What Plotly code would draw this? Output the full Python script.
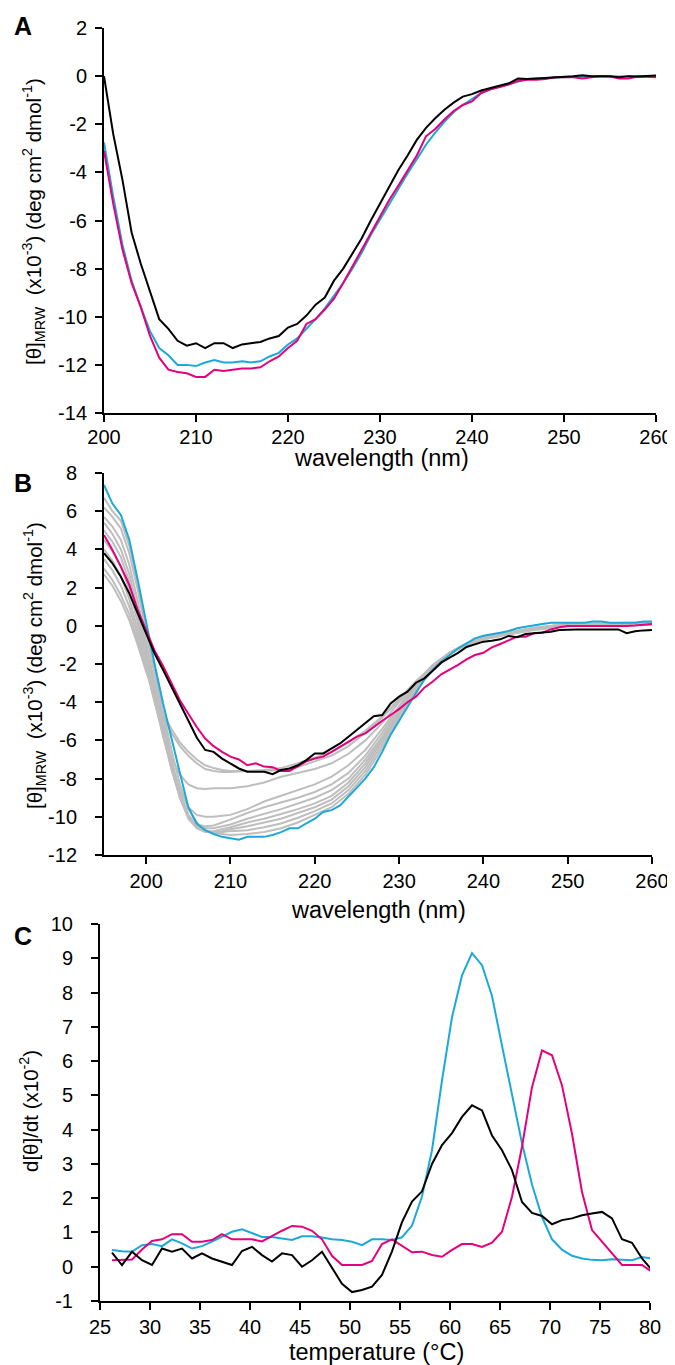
import plotly.graph_objects as go

# ---------------- Panel A data ----------------
A_WL = list(range(200, 261))
A_BLACK = [0.0, -2.4, -4.3, -6.5, -7.8, -9.0, -10.1, -10.5, -11.0, -11.2, -11.1,
           -11.3, -11.1, -11.1, -11.3, -11.15, -11.1, -11.05, -10.9, -10.8, -10.45,
           -10.3, -9.95, -9.5, -9.2, -8.5, -8.0, -7.35, -6.75, -6.0, -5.3,
           -4.55, -3.9, -3.3, -2.65, -2.15, -1.75, -1.4, -1.1, -0.85, -0.75,
           -0.6, -0.5, -0.4, -0.3, -0.1, -0.12, -0.1, -0.08, -0.06, -0.03,
           0.0, 0.04, 0.0, 0.0, 0.0, -0.05, 0.0, -0.02, 0.0, 0.03]
A_CYAN = [-2.75, -5.0, -7.0, -8.5, -9.6, -10.6, -11.3, -11.6, -12.0, -12.0, -12.05,
          -11.9, -11.8, -11.9, -11.9, -11.85, -11.9, -11.85, -11.65, -11.5, -11.15,
          -10.9, -10.5, -10.1, -9.65, -9.15, -8.6, -8.0, -7.35, -6.6, -5.95,
          -5.3, -4.7, -4.05, -3.45, -2.85, -2.35, -1.9, -1.5, -1.2, -0.95,
          -0.7, -0.55, -0.45, -0.35, -0.22, -0.12, -0.1, -0.08, -0.05, -0.03,
          -0.02, 0.0, -0.02, -0.02, -0.03, -0.03, -0.02, -0.03, -0.02, -0.02]
A_MAGENTA = [-3.1, -5.3, -7.2, -8.6, -9.6, -10.8, -11.7, -12.2, -12.3, -12.35, -12.5,
             -12.5, -12.2, -12.25, -12.2, -12.15, -12.15, -12.1, -11.85, -11.65, -11.3,
             -11.0, -10.3, -10.1, -9.7, -9.25, -8.6, -7.9, -7.2, -6.5, -5.8,
             -5.15, -4.55, -3.95, -3.3, -2.5, -2.2, -1.8, -1.45, -1.2, -1.05,
             -0.7, -0.55, -0.45, -0.35, -0.2, -0.15, -0.15, -0.12, -0.05, -0.05,
             -0.05, -0.1, -0.05, 0.0, -0.02, -0.1, -0.1, -0.02, -0.03, -0.05]
A_XTICKS = [200, 210, 220, 230, 240, 250, 260]
A_YTICKS = [2, 0, -2, -4, -6, -8, -10, -12, -14]

# ---------------- Panel B data ----------------
B_WL = list(range(195, 261))
B_CYAN = [7.37, 6.4, 5.8, 4.5, 2.4, 0.1, -2.0, -4.05, -5.8, -7.7, -9.5,
          -10.35, -10.7, -10.9, -11.05, -11.13, -11.2, -11.05, -11.05, -11.05, -10.95,
          -10.8, -10.6, -10.6, -10.35, -10.1, -9.75, -9.65, -9.4, -8.95, -8.5,
          -8.0, -7.4, -6.6, -5.7, -4.97, -4.25, -3.5, -2.8, -2.3, -1.88,
          -1.53, -1.18, -0.92, -0.66, -0.52, -0.45, -0.36, -0.27, -0.13, -0.05,
          0.04, 0.09, 0.16, 0.16, 0.16, 0.13, 0.16, 0.22, 0.22, 0.16,
          0.16, 0.16, 0.16, 0.22, 0.22]
B_BLACK = [3.8, 3.27, 2.57, 1.7, 0.65, -0.4, -1.45, -2.3, -3.2, -4.07, -4.93,
           -5.85, -6.5, -6.6, -6.95, -7.2, -7.47, -7.64, -7.64, -7.64, -7.77,
           -7.55, -7.47, -7.3, -7.03, -6.68, -6.68, -6.42, -6.16, -5.81, -5.46,
           -5.11, -4.73, -4.67, -4.06, -3.71, -3.45, -2.98, -2.75, -2.35, -1.93,
           -1.67, -1.42, -1.11, -0.97, -0.83, -0.78, -0.71, -0.53, -0.6, -0.43,
           -0.39, -0.36, -0.31, -0.22, -0.19, -0.19, -0.19, -0.19, -0.19, -0.22,
           -0.19, -0.39, -0.29, -0.24, -0.22]
B_MAGENTA = [4.75, 3.97, 3.1, 2.14, 0.83, -0.2, -1.3, -2.1, -3.0, -3.9, -4.6,
             -5.3, -5.9, -6.3, -6.6, -6.85, -7.0, -7.3, -7.2, -7.37, -7.4,
             -7.6, -7.6, -7.37, -7.1, -6.95, -6.85, -6.6, -6.33, -6.06, -5.8,
             -5.63, -5.28, -4.97, -4.67, -4.36, -4.0, -3.71, -3.24, -2.92, -2.54,
             -2.31, -2.05, -1.76, -1.53, -1.41, -1.13, -0.95, -0.78, -0.57, -0.57,
             -0.39, -0.36, -0.19, -0.08, -0.01, -0.01, -0.01, -0.04, -0.01, -0.01,
             -0.01, -0.01, 0.02, 0.06, 0.1]
# intermediate-temperature spectra (grey), read at a coarser wavelength grid
G_WL = [195, 196, 197, 198, 199, 200, 201, 202, 203, 204, 205, 206, 207, 208, 209, 210,
        212, 214, 216, 218, 220, 222, 224, 226, 228,
        230, 232, 234, 236, 238, 240,
        243, 246, 250, 255, 260]
G1 = [6.7, 6.0, 5.5, 4.2, 2.2, 0.0, -2.3, -4.5, -6.5, -8.3, -9.6, -10.3, -10.7, -10.85, -10.9, -10.95,
      -10.9, -10.8, -10.6, -10.3, -9.9, -9.5, -8.8, -7.8, -6.4,
      -4.8, -3.4, -2.3, -1.5, -0.95, -0.6,
      -0.35, -0.1, 0.1, 0.15, 0.18]
G2 = [6.2, 5.7, 5.1, 3.8, 1.9, -0.3, -2.6, -4.9, -7.0, -8.7, -9.9, -10.5, -10.75, -10.8, -10.8, -10.75,
      -10.7, -10.55, -10.35, -10.05, -9.7, -9.3, -8.6, -7.6, -6.2,
      -4.7, -3.3, -2.2, -1.45, -0.95, -0.6,
      -0.35, -0.12, 0.08, 0.12, 0.15]
G3 = [5.7, 5.2, 4.5, 3.2, 1.3, -0.8, -3.0, -5.2, -7.2, -8.9, -10.0, -10.6, -10.8, -10.8, -10.75, -10.65,
      -10.5, -10.3, -10.1, -9.8, -9.5, -9.1, -8.4, -7.4, -6.0,
      -4.6, -3.25, -2.2, -1.45, -0.95, -0.62,
      -0.35, -0.12, 0.08, 0.1, 0.15]
G4 = [5.4, 4.8, 4.0, 2.7, 0.9, -1.2, -3.3, -5.4, -7.4, -9.0, -10.1, -10.6, -10.75, -10.75, -10.65, -10.55,
      -10.3, -10.1, -9.85, -9.6, -9.3, -8.9, -8.2, -7.2, -5.9,
      -4.5, -3.2, -2.2, -1.45, -0.95, -0.62,
      -0.38, -0.15, 0.05, 0.1, 0.12]
G5 = [5.0, 4.4, 3.6, 2.3, 0.5, -1.5, -3.6, -5.6, -7.5, -9.0, -10.0, -10.5, -10.6, -10.6, -10.5, -10.4,
      -10.1, -9.85, -9.6, -9.3, -9.0, -8.6, -8.0, -7.0, -5.8,
      -4.4, -3.15, -2.15, -1.4, -0.95, -0.62,
      -0.38, -0.15, 0.05, 0.1, 0.12]
G6 = [4.5, 3.9, 3.1, 1.9, 0.2, -1.8, -3.8, -5.7, -7.5, -8.9, -9.9, -10.4, -10.5, -10.45, -10.3, -10.15,
      -9.8, -9.5, -9.25, -9.0, -8.7, -8.3, -7.7, -6.8, -5.6,
      -4.3, -3.1, -2.1, -1.4, -0.95, -0.62,
      -0.4, -0.15, 0.05, 0.08, 0.1]
G7 = [4.0, 3.4, 2.6, 1.4, -0.2, -2.1, -4.0, -5.8, -7.4, -8.6, -9.5, -9.9, -10.0, -10.0, -9.95, -9.9,
      -9.6, -9.2, -8.9, -8.6, -8.3, -7.9, -7.3, -6.5, -5.4,
      -4.2, -3.0, -2.05, -1.4, -0.95, -0.65,
      -0.4, -0.18, 0.03, 0.05, 0.1]
G8 = [3.5, 2.9, 2.1, 1.0, -0.5, -2.3, -4.0, -5.6, -6.9, -7.8, -8.3, -8.5, -8.55, -8.5, -8.5, -8.5,
      -8.4, -8.2, -7.9, -7.7, -7.5, -7.2, -6.7, -6.0, -5.1,
      -4.0, -2.95, -2.05, -1.4, -0.95, -0.65,
      -0.4, -0.2, 0.0, 0.05, 0.08]
G9 = [3.0, 2.4, 1.6, 0.6, -0.8, -2.3, -3.6, -4.7, -5.6, -6.3, -6.8, -7.2, -7.5, -7.6, -7.65, -7.65,
      -7.6, -7.6, -7.55, -7.4, -7.1, -6.8, -6.3, -5.6, -4.8,
      -3.9, -2.95, -2.1, -1.45, -1.0, -0.7,
      -0.42, -0.2, 0.0, 0.05, 0.08]
G10 = [2.7, 2.1, 1.3, 0.3, -1.0, -2.4, -3.6, -4.6, -5.4, -6.1, -6.6, -7.0, -7.3, -7.45, -7.55, -7.6,
       -7.6, -7.55, -7.45, -7.2, -6.9, -6.6, -6.1, -5.5, -4.75,
       -3.85, -2.9, -2.1, -1.45, -1.0, -0.72,
       -0.45, -0.22, -0.02, 0.05, 0.05]
GREYS = [G1, G2, G3, G4, G5, G6, G7, G8, G9, G10]
B_XTICKS = [200, 210, 220, 230, 240, 250, 260]
B_YTICKS = [8, 6, 4, 2, 0, -2, -4, -6, -8, -10, -12]

# ---------------- Panel C data ----------------
C_T = [26.2, 27.2, 28.2, 29.2, 30.2, 31.2, 32.2, 33.2, 34.2, 35.2,
       36.2, 37.2, 38.2, 39.2, 40.2, 41.2, 42.2, 43.2, 44.2, 45.2,
       46.2, 47.2, 48.2, 49.2, 50.2, 51.2, 52.2, 53.2, 54.2, 55.2,
       56.2, 57.2, 58.2, 59.2, 60.2, 61.2, 62.2, 63.2, 64.2, 65.2,
       66.2, 67.2, 68.2, 69.2, 70.2, 71.2, 72.2, 73.2, 74.2, 75.2,
       76.2, 77.2, 78.2, 79.2, 80.2]
C_BLACK = [0.41, 0.05, 0.44, 0.19, 0.05, 0.53, 0.44, 0.53, 0.24, 0.39,
           0.24, 0.15, 0.05, 0.46, 0.58, 0.34, 0.15, 0.39, 0.34, 0.0,
           0.19, 0.44, -0.05, -0.5, -0.74, -0.68, -0.58, -0.24, 0.45, 1.3,
           1.9, 2.2, 3.0, 3.55, 3.9, 4.37, 4.71, 4.56, 3.83, 3.4,
           2.82, 1.89, 1.57, 1.48, 1.24, 1.36, 1.41, 1.5, 1.55, 1.6,
           1.41, 0.8, 0.7, 0.24, -0.1]
C_CYAN = [0.49, 0.45, 0.44, 0.63, 0.66, 0.6, 0.8, 0.68, 0.53, 0.6,
          0.73, 0.87, 1.02, 1.09, 0.97, 0.87, 0.87, 0.83, 0.78, 0.89,
          0.89, 0.85, 0.8, 0.78, 0.73, 0.63, 0.8, 0.8, 0.78, 0.86,
          1.2, 2.05, 3.4, 5.44, 7.28, 8.5, 9.15, 8.8, 7.9, 6.45,
          5.0, 3.6, 2.4, 1.45, 0.8, 0.5, 0.32, 0.24, 0.2, 0.19,
          0.22, 0.2, 0.19, 0.28, 0.24]
C_MAGENTA = [0.19, 0.19, 0.21, 0.5, 0.75, 0.8, 0.95, 0.95, 0.73, 0.73,
             0.78, 0.95, 0.8, 0.8, 0.8, 0.74, 0.9, 1.05, 1.19, 1.17,
             1.05, 0.8, 0.32, 0.05, 0.05, 0.05, 0.17, 0.66, 0.8, 0.6,
             0.42, 0.44, 0.34, 0.29, 0.49, 0.66, 0.66, 0.58, 0.7, 1.02,
             2.04, 3.5, 5.24, 6.31, 6.17, 5.29, 3.88, 2.18, 1.07, 0.73,
             0.39, 0.05, 0.05, 0.05, -0.15]
C_XTICKS = [25, 30, 35, 40, 45, 50, 55, 60, 65, 70, 75, 80]
C_YTICKS = [10, 9, 8, 7, 6, 5, 4, 3, 2, 1, 0, -1]

# ---------------- styling ----------------
PAGE_OFF = 8                      # default page margin around the figure div
W, H = 675 - PAGE_OFF, 1365 - PAGE_OFF
# plot area expressed in page pixels: left 100, right 656, top 28, bottom 1301
ML, MR, MT, MB = 100 - PAGE_OFF, 675 - 656, 28 - PAGE_OFF, 1365 - 1301
PW, PH = W - ML - MR, H - MT - MB
FONT = "Liberation Sans, Arial, sans-serif"
BLACK = "#000000"
CYAN = "#1CA9D8"
MAGENTA = "#E5007D"
GREY = "#BEBEBE"
LW = 2


def fx(px):
    """page pixel x -> paper fraction of plot area"""
    return (px - PAGE_OFF - ML) / PW


def fy(py):
    """page pixel y -> paper fraction of plot area"""
    return 1 - (py - PAGE_OFF - MT) / PH


def lab(v):
    return str(v)


fig = go.Figure()

# Panel A
for ys, c in [(A_CYAN, CYAN), (A_MAGENTA, MAGENTA), (A_BLACK, BLACK)]:
    fig.add_trace(go.Scatter(x=A_WL, y=ys, mode="lines", line=dict(color=c, width=LW),
                             xaxis="x", yaxis="y", showlegend=False, hoverinfo="skip"))
# Panel B
for g in GREYS:
    fig.add_trace(go.Scatter(x=G_WL, y=g, mode="lines", line=dict(color=GREY, width=LW),
                             xaxis="x2", yaxis="y2", showlegend=False, hoverinfo="skip"))
for ys, c in [(B_CYAN, CYAN), (B_MAGENTA, MAGENTA), (B_BLACK, BLACK)]:
    fig.add_trace(go.Scatter(x=B_WL, y=ys, mode="lines", line=dict(color=c, width=LW),
                             xaxis="x2", yaxis="y2", showlegend=False, hoverinfo="skip"))
# Panel C
for ys, c in [(C_CYAN, CYAN), (C_MAGENTA, MAGENTA), (C_BLACK, BLACK)]:
    fig.add_trace(go.Scatter(x=C_T, y=ys, mode="lines", line=dict(color=c, width=LW),
                             xaxis="x3", yaxis="y3", showlegend=False, hoverinfo="skip"))

tickfont = dict(family=FONT, size=20, color=BLACK)
common = dict(showline=True, linecolor=BLACK, linewidth=2, ticks="outside", ticklen=7,
              tickwidth=2, tickcolor=BLACK, showgrid=False, zeroline=False,
              tickfont=tickfont, tickmode="array", fixedrange=True, automargin=False)

fig.update_layout(
    width=W, height=H,
    margin=dict(l=ML, r=MR, t=MT, b=MB, autoexpand=False),
    paper_bgcolor="white", plot_bgcolor="white",
    xaxis=dict(domain=[fx(104), fx(656)], range=[200, 260], anchor="y",
               tickvals=A_XTICKS, ticktext=[lab(v) for v in A_XTICKS],
               ticklabelstandoff=-2, **common),
    yaxis=dict(domain=[fy(413), fy(28)], range=[-14, 2], anchor="x",
               tickvals=A_YTICKS, ticktext=[lab(v) for v in A_YTICKS],
               ticklabelstandoff=4, **common),
    xaxis2=dict(domain=[fx(104), fx(652)], range=[195, 260], anchor="y2",
                tickvals=B_XTICKS, ticktext=[lab(v) for v in B_XTICKS], **common),
    yaxis2=dict(domain=[fy(855), fy(473)], range=[-12, 8], anchor="x2",
                tickvals=B_YTICKS, ticktext=[lab(v) for v in B_YTICKS],
                ticklabelstandoff=14, **common),
    xaxis3=dict(domain=[fx(100), fx(650)], range=[25, 80], anchor="y3",
                tickvals=C_XTICKS, ticktext=[lab(v) for v in C_XTICKS], **common),
    yaxis3=dict(domain=[fy(1301), fy(924)], range=[-1, 10], anchor="x3",
                tickvals=C_YTICKS, ticktext=[lab(v) for v in C_YTICKS],
                ticklabelstandoff=14, **common),
)

YTITLE = "[\u03b8]<sub>MRW</sub>\u00a0\u00a0(x10<sup>-3</sup>) (deg cm<sup>2</sup> dmol<sup>-1</sup>)"
titlefont = dict(family=FONT, size=23.5, color=BLACK)
ytfont = dict(family=FONT, size=20.5, color=BLACK)
panelfont = dict(family=FONT, size=25, color=BLACK)

annotations = [
    # panel letters
    dict(text="<b>A</b>", x=fx(23), y=fy(26), font=panelfont),
    dict(text="<b>B</b>", x=fx(23), y=fy(483), font=panelfont),
    dict(text="<b>C</b>", x=fx(23), y=fy(936), font=panelfont),
    # x titles
    dict(text="wavelength (nm)", x=fx(381), y=fy(458), font=titlefont),
    dict(text="wavelength (nm)", x=fx(378), y=fy(910), font=titlefont),
    dict(text="temperature (\u00b0C)", x=fx(376), y=fy(1352), font=titlefont),
    # y titles
    dict(text=YTITLE, x=fx(34), y=fy(222), font=ytfont, textangle=-90),
    dict(text=YTITLE, x=fx(34), y=fy(666), font=ytfont, textangle=-90),
    dict(text="d[\u03b8]/dt (x10<sup>-2</sup>)", x=fx(29), y=fy(1111), font=ytfont, textangle=-90),
]
for a in annotations:
    a.update(xref="paper", yref="paper", showarrow=False, xanchor="center", yanchor="middle")
fig.update_layout(annotations=annotations)

fig.write_html("out.html")
